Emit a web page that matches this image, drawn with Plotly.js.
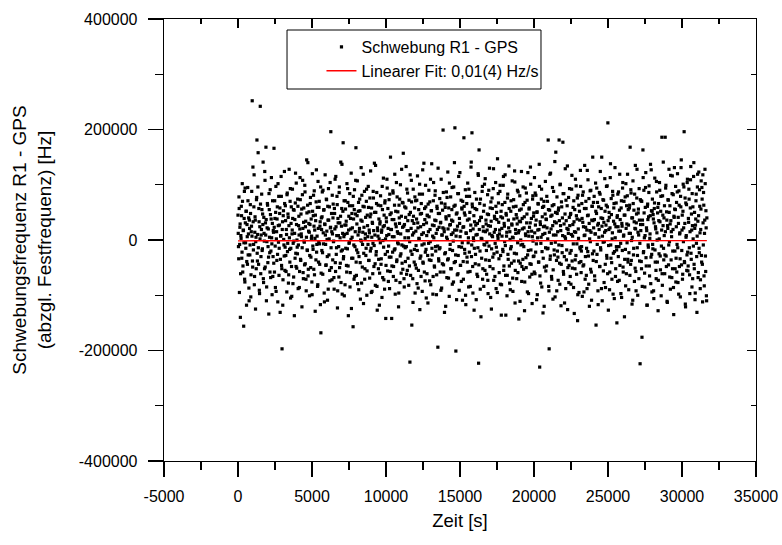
<!DOCTYPE html>
<html>
<head>
<meta charset="utf-8">
<script src="https://cdn.plot.ly/plotly-3.0.1.min.js"></script>
<style>html,body{margin:0;padding:0;background:#fff;}#chart{width:782px;height:545px;}</style>
</head>
<body>
<div id="chart"></div>
<script>
// Zeit [s] der Messpunkte (Teil 1)
const zeit_s = [
0,32,64,96,128,160,192,224,256,288,320,352,384,416,448,480,512,544,576,608,640,672,704,736,768,
800,832,864,896,928,960,992,1024,1056,1088,1120,1152,1184,1216,1248,1280,1312,1344,1376,1408,1440,1472,1504,1536,1568,
1600,1632,1664,1696,1728,1760,1792,1824,1856,1888,1920,1952,1984,2016,2048,2080,2112,2144,2176,2208,2240,2272,2304,2336,2368,
2400,2432,2464,2496,2528,2560,2592,2624,2656,2688,2720,2752,2784,2816,2848,2880,2912,2944,2976,3008,3040,3072,3104,3136,3168,
3200,3232,3264,3296,3328,3360,3392,3424,3456,3488,3520,3552,3584,3616,3648,3680,3712,3744,3776,3808,3840,3872,3904,3936,3968,
4000,4032,4064,4096,4128,4160,4192,4224,4256,4288,4320,4352,4384,4416,4448,4480,4512,4544,4576,4608,4640,4672,4704,4736,4768,
4800,4832,4864,4896,4928,4960,4992,5024,5056,5088,5120,5152,5184,5216,5248,5280,5312,5344,5376,5408,5440,5472,5504,5536,5568,
5600,5632,5664,5696,5728,5760,5792,5824,5856,5888,5920,5952,5984,6016,6048,6080,6112,6144,6176,6208,6240,6272,6304,6336,6368,
6400,6432,6464,6496,6528,6560,6592,6624,6656,6688,6720,6752,6784,6816,6848,6880,6912,6944,6976,7008,7040,7072,7104,7136,7168,
7200,7232,7264,7296,7328,7360,7392,7424,7456,7488,7520,7552,7584,7616,7648,7680,7712,7744,7776,7808,7840,7872,7904,7936,7968,
8000,8032,8064,8096,8128,8160,8192,8224,8256,8288,8320,8352,8384,8416,8448,8480,8512,8544,8576,8608,8640,8672,8704,8736,8768,
8800,8832,8864,8896,8928,8960,8992,9024,9056,9088,9120,9152,9184,9216,9248,9280,9312,9344,9376,9408,9440,9472,9504,9536,9568,
9600,9632,9664,9696,9728,9760,9792,9824,9856,9888,9920,9952,9984,10016,10048,10080,10112,10144,10176,10208,10240,10272,10304,10336,10368,
10400,10432,10464,10496,10528,10560,10592,10624,10656,10688,10720,10752,10784,10816,10848,10880,10912,10944,10976,11008,11040,11072,11104,11136,11168,
11200,11232,11264,11296,11328,11360,11392,11424,11456,11488,11520,11552,11584,11616,11648,11680,11712,11744,11776,11808,11840,11872,11904,11936,11968,
12000,12032,12064,12096,12128,12160,12192,12224,12256,12288,12320,12352,12384,12416,12448,12480,12512,12544,12576,12608,12640,12672,12704,12736,12768,
12800,12832,12864,12896,12928,12960,12992,13024,13056,13088,13120,13152,13184,13216,13248,13280,13312,13344,13376,13408,13440,13472,13504,13536,13568,
13600,13632,13664,13696,13728,13760,13792,13824,13856,13888,13920,13952,13984,14016,14048,14080,14112,14144,14176,14208,14240,14272,14304,14336,14368,
14400,14432,14464,14496,14528,14560,14592,14624,14656,14688,14720,14752,14784,14816,14848,14880,14912,14944,14976,15008,15040,15072,15104,15136,15168,
15200,15232,15264,15296,15328,15360,15392,15424,15456,15488,15520,15552,15584,15616,15648,15680,15712,15744,15776,15808,15840,15872,15904,15936,15968,
16000,16032,16064,16096,16128,16160,16192,16224,16256,16288,16320,16352,16384,16416,16448,16480,16512,16544,16576,16608,16640,16672,16704,16736,16768,
16800,16832,16864,16896,16928,16960,16992,17024,17056,17088,17120,17152,17184,17216,17248,17280,17312,17344,17376,17408,17440,17472,17504,17536,17568,
17600,17632,17664,17696,17728,17760,17792,17824,17856,17888,17920,17952,17984,18016,18048,18080,18112,18144,18176,18208,18240,18272,18304,18336,18368,
18400,18432,18464,18496,18528,18560,18592,18624,18656,18688,18720,18752,18784,18816,18848,18880,18912,18944,18976,19008,19040,19072,19104,19136,19168,
19200,19232,19264,19296,19328,19360,19392,19424,19456,19488,19520,19552,19584,19616,19648,19680,19712,19744,19776,19808,19840,19872,19904,19936,19968,
20000,20032,20064,20096,20128,20160,20192,20224,20256,20288,20320,20352,20384,20416,20448,20480,20512,20544,20576,20608,20640,20672,20704,20736,20768,
20800,20832,20864,20896,20928,20960,20992,21024,21056,21088,21120,21152,21184,21216,21248,21280,21312,21344,21376,21408,21440,21472,21504,21536,21568,
21600,21632,21664,21696,21728,21760,21792,21824,21856,21888,21920,21952,21984,22016,22048,22080,22112,22144,22176,22208,22240,22272,22304,22336,22368,
22400,22432,22464,22496,22528,22560,22592,22624,22656,22688,22720,22752,22784,22816,22848,22880,22912,22944,22976,23008,23040,23072,23104,23136,23168,
23200,23232,23264,23296,23328,23360,23392,23424,23456,23488,23520,23552,23584,23616,23648,23680,23712,23744,23776,23808,23840,23872,23904,23936,23968,
24000,24032,24064,24096,24128,24160,24192,24224,24256,24288,24320,24352,24384,24416,24448,24480,24512,24544,24576,24608,24640,24672,24704,24736,24768,
24800,24832,24864,24896,24928,24960,24992,25024,25056,25088,25120,25152,25184,25216,25248,25280,25312,25344,25376,25408,25440,25472,25504,25536,25568,
25600,25632,25664,25696,25728,25760,25792,25824,25856,25888,25920,25952,25984,26016,26048,26080,26112,26144,26176,26208,26240,26272,26304,26336,26368,
26400,26432,26464,26496,26528,26560,26592,26624,26656,26688,26720,26752,26784,26816,26848,26880,26912,26944,26976,27008,27040,27072,27104,27136,27168,
27200,27232,27264,27296,27328,27360,27392,27424,27456,27488,27520,27552,27584,27616,27648,27680,27712,27744,27776,27808,27840,27872,27904,27936,27968,
28000,28032,28064,28096,28128,28160,28192,28224,28256,28288,28320,28352,28384,28416,28448,28480,28512,28544,28576,28608,28640,28672,28704,28736,28768,
28800,28832,28864,28896,28928,28960,28992,29024,29056,29088,29120,29152,29184,29216,29248,29280,29312,29344,29376,29408,29440,29472,29504,29536,29568,
29600,29632,29664,29696,29728,29760,29792,29824,29856,29888,29920,29952,29984,30016,30048,30080,30112,30144,30176,30208,30240,30272,30304,30336,30368,
30400,30432,30464,30496,30528,30560,30592,30624,30656,30688,30720,30752,30784,30816,30848,30880,30912,30944,30976,31008,31040,31072,31104,31136,31168,
31200,31232,31264,31296,31328,31360,31392,31424,31456,31488,31520,31552,31584,31616,31648,31680
];
// Schwebungsfrequenz R1 - GPS (abzgl. Festfrequenz) in kHz (Teil 1)
const schwebung_kHz = [
45,-12,78,-95,23,-140,8,61,-33,102,-58,17,-156,39,-71,94,-5,52,-118,28,-44,71,11,-87,36,
-27,64,-103,15,88,252,-49,33,-8,118,-66,42,-125,5,73,181,-38,96,-14,57,-91,24,242,-61,9,
83,-19,47,141,-77,12,-52,108,31,168,-110,-3,66,-41,20,-134,55,-23,91,-68,38,4,-99,71,-30,
14,166,-58,39,-86,97,2,-37,60,-112,26,79,-15,48,-131,7,115,-46,-197,33,-72,53,-9,124,-55,
62,-28,19,-94,85,-6,41,-63,128,-17,70,-105,30,-48,11,92,-79,55,-2,-137,37,67,-24,103,-51,
-13,74,-88,26,9,-57,113,-35,47,6,-121,82,21,-70,58,-4,99,-43,34,-92,145,-18,63,-65,16,
51,-101,28,77,-31,3,-76,120,-11,44,-53,89,18,-129,35,69,-22,7,-84,106,-40,59,-7,25,-117,
-168,40,-19,87,-62,13,54,-96,29,118,-8,-45,73,1,-109,36,93,-27,60,-74,22,196,-50,15,81,
-36,65,-2,-89,48,110,-57,24,-14,79,-123,39,8,-67,96,31,-42,141,-20,57,-98,12,176,-30,71,
10,-81,56,27,-46,102,-16,68,-137,43,-4,84,-59,20,121,-33,5,62,-157,38,-71,91,-12,47,167,
-64,29,107,-23,52,-90,15,74,-41,0,131,-78,34,-8,61,-115,23,88,-52,11,-28,70,-100,45,6,
97,-37,18,-69,42,125,-15,58,-93,30,-6,76,-48,139,9,-82,50,-21,86,-127,17,63,-35,2,-60,
33,80,-44,14,-104,55,-1,112,-72,26,67,-26,-142,40,8,94,-56,21,-11,73,-88,46,150,-31,19,
-47,6,89,-66,37,-18,119,-98,52,24,-39,78,-5,12,-121,63,30,-77,100,-25,43,-9,68,-53,157,
25,-85,60,-14,41,133,-62,17,85,-33,4,72,-47,-221,50,-20,108,-154,35,-70,92,13,-40,58,-96,
71,-10,38,-79,116,22,-55,3,83,-126,47,-29,66,10,-93,127,-42,28,-7,57,-74,99,-17,31,-61,
44,-114,15,90,-36,69,-3,-81,53,138,-27,7,-66,104,26,-49,81,-12,35,-99,61,19,-194,48,-38,
-16,75,-58,32,110,-87,9,54,199,-45,20,-131,65,-23,42,87,-68,1,123,-34,58,-102,27,-8,78,
-52,36,95,-19,13,-76,61,140,203,-39,-201,47,18,-63,84,-28,115,-91,30,6,-46,72,-13,56,-109,
23,-71,185,49,-24,91,-117,12,66,-40,103,-5,-85,38,79,-57,17,132,-30,194,60,-96,4,44,-15,
86,-43,27,-108,55,10,-66,120,-223,163,35,-20,74,-139,41,2,97,-52,16,-84,63,-9,111,-36,29,
-62,18,82,-97,46,-11,130,-48,25,69,-125,8,57,-31,93,-73,14,39,-6,104,-88,50,-22,147,3,
67,-34,11,88,-80,42,-136,21,64,-17,99,-55,30,-3,118,-64,48,7,-101,76,-26,36,134,-47,15,
-90,52,-12,29,107,-69,4,73,-38,125,-114,19,61,-25,40,90,-59,13,-143,34,80,-42,0,56,-75,
39,-8,96,-53,22,-128,68,11,-32,85,47,-94,122,-19,7,58,-67,31,101,-44,16,-115,74,-2,43,
-29,113,-61,27,81,-7,50,-99,18,65,-40,137,-230,33,-78,5,92,-21,59,-132,24,70,-49,12,106,
-56,37,79,-16,2,181,-84,-197,54,-35,121,20,-66,45,95,-107,9,64,-27,142,-4,159,31,-92,48,
15,-73,58,181,-42,100,26,-119,69,-10,40,177,-57,84,-30,6,129,-88,35,-18,62,-126,19,77,-46,
93,-24,46,-80,10,117,-51,28,-7,71,-133,55,-36,14,98,-62,38,-146,81,3,-95,52,-13,126,-39,
-20,66,-102,32,87,-45,8,135,-71,23,57,-15,-88,44,109,-29,75,-120,17,-3,90,-58,36,61,150,
-37,22,79,-65,11,103,-154,48,-26,68,-92,30,5,86,-48,124,-18,57,150,-110,39,-4,72,-77,14,
52,-86,27,97,-33,60,212,-127,19,41,-58,113,-9,75,-41,2,88,-98,34,66,-21,131,-66,24,-12,
-150,44,83,-30,16,-73,119,37,-6,58,-104,25,94,-49,7,70,-139,45,-17,102,-61,29,80,-35,55,
-90,12,63,168,-44,85,-1,-116,40,107,-27,54,-75,21,135,-57,31,76,-14,-100,49,9,93,-38,-224,
28,71,-52,-176,36,163,-23,90,4,-85,59,122,-47,17,-118,65,-9,42,98,-65,11,137,-31,53,-94,
74,-16,38,-106,57,112,-40,20,-70,87,0,49,-128,66,-25,104,33,-54,79,-11,186,-82,45,141,-36,
8,-61,186,94,-29,51,-111,26,73,-45,128,-3,62,-89,35,15,-68,116,-20,82,-135,41,56,-52,97,
-33,68,-8,120,-77,30,89,-48,13,-103,60,145,-19,45,-62,101,22,196,-41,76,-121,5,64,-27,110,
-56,39,92,-14,-97,58,133,-35,18,84,-70,2,115,-44,50,-108,27,71,-6,-131,96,34,-59,123,-23,
61,-88,19,107,-40,74,-112,31,86,-65,12,128,-29,53,-101,40
];
// Zeit [s] der Messpunkte (Teil 2, zwischenliegende Messungen)
const zeit2_s = [
16,48,80,112,144,176,208,240,272,304,336,368,400,432,464,496,528,560,592,624,656,688,720,752,784,
816,848,880,912,944,976,1008,1040,1072,1104,1136,1168,1200,1232,1264,1296,1328,1360,1392,1424,1456,1488,1520,1552,1584,
1616,1648,1680,1712,1744,1776,1808,1840,1872,1904,1936,1968,2000,2032,2064,2096,2128,2160,2192,2224,2256,2288,2320,2352,2384,
2416,2448,2480,2512,2544,2576,2608,2640,2672,2704,2736,2768,2800,2832,2864,2896,2928,2960,2992,3024,3056,3088,3120,3152,3184,
3216,3248,3280,3312,3344,3376,3408,3440,3472,3504,3536,3568,3600,3632,3664,3696,3728,3760,3792,3824,3856,3888,3920,3952,3984,
4016,4048,4080,4112,4144,4176,4208,4240,4272,4304,4336,4368,4400,4432,4464,4496,4528,4560,4592,4624,4656,4688,4720,4752,4784,
4816,4848,4880,4912,4944,4976,5008,5040,5072,5104,5136,5168,5200,5232,5264,5296,5328,5360,5392,5424,5456,5488,5520,5552,5584,
5616,5648,5680,5712,5744,5776,5808,5840,5872,5904,5936,5968,6000,6032,6064,6096,6128,6160,6192,6224,6256,6288,6320,6352,6384,
6416,6448,6480,6512,6544,6576,6608,6640,6672,6704,6736,6768,6800,6832,6864,6896,6928,6960,6992,7024,7056,7088,7120,7152,7184,
7216,7248,7280,7312,7344,7376,7408,7440,7472,7504,7536,7568,7600,7632,7664,7696,7728,7760,7792,7824,7856,7888,7920,7952,7984,
8016,8048,8080,8112,8144,8176,8208,8240,8272,8304,8336,8368,8400,8432,8464,8496,8528,8560,8592,8624,8656,8688,8720,8752,8784,
8816,8848,8880,8912,8944,8976,9008,9040,9072,9104,9136,9168,9200,9232,9264,9296,9328,9360,9392,9424,9456,9488,9520,9552,9584,
9616,9648,9680,9712,9744,9776,9808,9840,9872,9904,9936,9968,10000,10032,10064,10096,10128,10160,10192,10224,10256,10288,10320,10352,10384,
10416,10448,10480,10512,10544,10576,10608,10640,10672,10704,10736,10768,10800,10832,10864,10896,10928,10960,10992,11024,11056,11088,11120,11152,11184,
11216,11248,11280,11312,11344,11376,11408,11440,11472,11504,11536,11568,11600,11632,11664,11696,11728,11760,11792,11824,11856,11888,11920,11952,11984,
12016,12048,12080,12112,12144,12176,12208,12240,12272,12304,12336,12368,12400,12432,12464,12496,12528,12560,12592,12624,12656,12688,12720,12752,12784,
12816,12848,12880,12912,12944,12976,13008,13040,13072,13104,13136,13168,13200,13232,13264,13296,13328,13360,13392,13424,13456,13488,13520,13552,13584,
13616,13648,13680,13712,13744,13776,13808,13840,13872,13904,13936,13968,14000,14032,14064,14096,14128,14160,14192,14224,14256,14288,14320,14352,14384,
14416,14448,14480,14512,14544,14576,14608,14640,14672,14704,14736,14768,14800,14832,14864,14896,14928,14960,14992,15024,15056,15088,15120,15152,15184,
15216,15248,15280,15312,15344,15376,15408,15440,15472,15504,15536,15568,15600,15632,15664,15696,15728,15760,15792,15824,15856,15888,15920,15952,15984,
16016,16048,16080,16112,16144,16176,16208,16240,16272,16304,16336,16368,16400,16432,16464,16496,16528,16560,16592,16624,16656,16688,16720,16752,16784,
16816,16848,16880,16912,16944,16976,17008,17040,17072,17104,17136,17168,17200,17232,17264,17296,17328,17360,17392,17424,17456,17488,17520,17552,17584,
17616,17648,17680,17712,17744,17776,17808,17840,17872,17904,17936,17968,18000,18032,18064,18096,18128,18160,18192,18224,18256,18288,18320,18352,18384,
18416,18448,18480,18512,18544,18576,18608,18640,18672,18704,18736,18768,18800,18832,18864,18896,18928,18960,18992,19024,19056,19088,19120,19152,19184,
19216,19248,19280,19312,19344,19376,19408,19440,19472,19504,19536,19568,19600,19632,19664,19696,19728,19760,19792,19824,19856,19888,19920,19952,19984,
20016,20048,20080,20112,20144,20176,20208,20240,20272,20304,20336,20368,20400,20432,20464,20496,20528,20560,20592,20624,20656,20688,20720,20752,20784,
20816,20848,20880,20912,20944,20976,21008,21040,21072,21104,21136,21168,21200,21232,21264,21296,21328,21360,21392,21424,21456,21488,21520,21552,21584,
21616,21648,21680,21712,21744,21776,21808,21840,21872,21904,21936,21968,22000,22032,22064,22096,22128,22160,22192,22224,22256,22288,22320,22352,22384,
22416,22448,22480,22512,22544,22576,22608,22640,22672,22704,22736,22768,22800,22832,22864,22896,22928,22960,22992,23024,23056,23088,23120,23152,23184,
23216,23248,23280,23312,23344,23376,23408,23440,23472,23504,23536,23568,23600,23632,23664,23696,23728,23760,23792,23824,23856,23888,23920,23952,23984,
24016,24048,24080,24112,24144,24176,24208,24240,24272,24304,24336,24368,24400,24432,24464,24496,24528,24560,24592,24624,24656,24688,24720,24752,24784,
24816,24848,24880,24912,24944,24976,25008,25040,25072,25104,25136,25168,25200,25232,25264,25296,25328,25360,25392,25424,25456,25488,25520,25552,25584,
25616,25648,25680,25712,25744,25776,25808,25840,25872,25904,25936,25968,26000,26032,26064,26096,26128,26160,26192,26224,26256,26288,26320,26352,26384,
26416,26448,26480,26512,26544,26576,26608,26640,26672,26704,26736,26768,26800,26832,26864,26896,26928,26960,26992,27024,27056,27088,27120,27152,27184,
27216,27248,27280,27312,27344,27376,27408,27440,27472,27504,27536,27568,27600,27632,27664,27696,27728,27760,27792,27824,27856,27888,27920,27952,27984,
28016,28048,28080,28112,28144,28176,28208,28240,28272,28304,28336,28368,28400,28432,28464,28496,28528,28560,28592,28624,28656,28688,28720,28752,28784,
28816,28848,28880,28912,28944,28976,29008,29040,29072,29104,29136,29168,29200,29232,29264,29296,29328,29360,29392,29424,29456,29488,29520,29552,29584,
29616,29648,29680,29712,29744,29776,29808,29840,29872,29904,29936,29968,30000,30032,30064,30096,30128,30160,30192,30224,30256,30288,30320,30352,30384,
30416,30448,30480,30512,30544,30576,30608,30640,30672,30704,30736,30768,30800,30832,30864,30896,30928,30960,30992,31024,31056,31088,31120,31152,31184,
31216,31248,31280,31312,31344,31376,31408,31440,31472,31504,31536,31568,31600,31632,31664
];
// Schwebungsfrequenz in kHz (Teil 2)
const schwebung2_kHz = [
12,-34,57,-8,29,-61,3,44,-22,70,-47,18,-5,88,-76,31,-15,52,-39,6,95,-27,40,-110,21,
-9,48,-63,25,7,-38,132,-18,60,-81,14,36,-3,-52,77,-24,10,158,-44,33,-97,2,65,-30,19,
55,-16,28,-70,41,-2,124,-49,9,37,-85,22,63,-12,-31,84,5,-58,46,-20,113,-7,30,-66,17,
-42,23,71,-11,50,-93,15,38,-26,102,-4,-64,27,58,-35,8,79,-52,19,-118,44,1,-29,66,-13,
35,-57,10,82,-21,47,-78,26,4,-40,93,-15,60,-102,18,39,-6,-67,54,12,-33,121,-48,28,0,
-25,61,-9,43,-86,20,73,-37,11,56,-14,108,-59,32,-2,-45,87,24,-71,5,49,-19,140,-53,30,
14,-28,66,-50,38,7,-99,52,-17,81,25,-63,3,45,-36,127,-8,59,-81,21,-4,70,-44,33,96,
-60,19,42,-23,90,-7,55,-112,28,9,-46,74,16,-30,61,-89,36,2,-55,104,23,-14,48,-72,11,
40,-3,-68,57,20,-41,115,-26,8,64,-92,31,-12,86,-50,4,43,-77,25,137,-18,52,-34,6,-101,
27,71,-15,34,-58,12,93,-47,18,-6,62,-85,39,1,-124,48,22,-33,79,-9,55,-66,15,108,-40,
-18,44,-79,9,68,-30,21,53,-107,36,-2,81,-49,14,119,-24,60,-71,3,41,-15,92,-56,26,-8,
59,-37,13,76,-20,47,-95,5,32,-61,88,17,-10,50,-43,135,-27,66,-84,22,7,-52,38,-118,29,
-5,62,-34,18,97,-68,24,-13,45,-89,71,2,-46,33,110,-21,57,-75,10,-31,83,-57,19,49,-142,
37,-22,85,-48,6,63,-16,29,-73,104,-36,15,51,-7,-96,40,74,-29,11,-60,128,-42,23,67,-11,
-70,28,4,-39,58,-12,92,-55,35,17,-82,46,-3,118,-64,21,69,-26,9,-113,43,30,-17,78,-45,
16,-51,72,-19,31,-87,55,2,101,-33,24,-66,48,-9,83,-40,13,139,-58,37,-22,60,-105,8,45,
-28,65,-6,42,-74,19,110,-37,53,-15,27,-98,71,4,-47,36,89,-20,12,-63,57,-11,130,-34,23,
48,-14,31,-91,67,9,-43,22,86,-58,15,-25,59,-120,38,5,77,-36,20,-69,44,103,-17,28,-52,
10,55,-80,34,-2,96,-41,18,63,-27,7,-108,49,25,-61,84,-12,39,122,-46,16,-75,58,-5,70,
-39,24,61,-17,45,-100,13,79,-31,36,-58,4,92,-22,50,-84,27,141,-9,65,-48,20,-1,-127,33,
57,-26,9,74,-62,30,-14,117,-45,19,66,-89,41,3,-33,88,-71,24,52,-8,101,-55,15,36,-19,
-4,47,-73,26,90,-37,11,58,-104,34,-16,76,6,-52,129,-25,43,-66,19,61,-13,37,-95,8,84,
32,-59,18,99,-28,52,-81,7,40,-21,115,-47,25,68,-10,-136,45,14,-64,83,-35,22,57,-78,1,
-16,71,-42,27,5,-93,60,38,-24,105,-55,12,46,-70,29,-5,87,-38,17,54,-111,33,-9,124,-48,
20,-35,64,-12,42,-76,94,8,-50,31,72,-27,15,-97,56,23,-43,132,-18,39,-62,6,80,-30,49,
-58,13,85,-22,36,-108,51,4,66,-40,19,97,-65,28,-6,74,-85,42,10,-33,61,-120,25,47,-14,
38,-47,22,70,-15,55,-92,14,119,-29,43,-6,-71,62,26,-54,88,-18,33,-103,50,9,-37,78,-20,
-31,54,-9,35,-80,101,17,-44,60,-23,8,84,-62,29,-114,47,3,72,-36,21,134,-50,12,-77,41,
26,-66,48,-19,92,-38,7,59,-86,33,15,-52,110,-28,44,-7,76,-99,20,63,-41,36,-16,97,-59,
-12,39,81,-47,24,-94,57,9,-30,70,-64,18,126,-21,45,-80,30,2,89,-53,14,-109,61,-25,35,
68,-20,37,-73,11,52,-39,94,-8,27,-117,60,19,-48,83,-14,40,-88,25,7,73,-56,32,-3,111,
-44,17,63,-28,98,-61,35,-10,50,-90,22,138,-33,46,-71,13,81,-24,58,-106,29,4,-52,67,-18,
41,-75,24,87,-12,54,-46,16,-97,71,30,-19,104,-58,9,45,-35,78,-83,21,62,-5,119,-40,27,
-23,58,-64,12,91,-37,40,5,-109,66,-15,33,83,-51,20,-92,47,128,-28,14,56,-70,36,-6,73,
17,-39,70,-84,28,113,-21,49,-60,8,95,-32,22,-118,61,37,-13,86,-47,3,44,-79,127,-26,52,
-8,46,-92,31,67,-18,24,-55,106,13,-40,59,-73,35,2,90,-29,52,-101,18,-61,80,26,-15,40,
62,-27,15,99,-48,36,-113,21,72,-9,50,-67,29,117,-36,6,84,-52,19,-86,43,131,-20,55,-76,
24,-58,87,-14,41,-98,63,11,-34,79,131,-45,18,-71,52,-3,96,-39,30,-116,67,8,-55,104,-22,
-47,32,74,-63,15,109,-24,47,-85,26,60,-11,140,-52,21,-96,38,83,-30,7,119,-68,44,-15,91,
13,-72,56,-28,95,-44,118,-9,63,-83,36,102,-57,22,-110
];
// Linearer Fit (Endpunkte)
const fitZeit_s = [0, 31680];
const fitWert_Hz = [-1500, -1200];

const xTicks = [-5000, 0, 5000, 10000, 15000, 20000, 25000, 30000, 35000];
const yTicks = [-400000, -200000, 0, 200000, 400000];

const alleZeit_s = zeit_s.concat(zeit2_s);
const alleSchwebung_Hz = schwebung_kHz.concat(schwebung2_kHz).map(v => v * 1000);

const FONT = '"Liberation Sans", Arial, sans-serif';
const xRange = [-5000, 35000];
const yRange = [-400000, 400000];

const traces = [
  {
    type: 'scatter', mode: 'markers',
    x: alleZeit_s, y: alleSchwebung_Hz,
    name: 'Schwebung R1 - GPS',
    marker: {symbol: 'square', size: 3.2, color: '#000000', line: {width: 0}}
  },
  {
    type: 'scatter', mode: 'lines',
    x: fitZeit_s, y: fitWert_Hz,
    name: 'Linearer Fit: 0,01(4) Hz/s',
    line: {color: '#ff0000', width: 1.4}
  },
  {
    type: 'scatter', mode: 'markers', x: [], y: [],
    xaxis: 'x2', yaxis: 'y2', showlegend: false, hoverinfo: 'skip'
  }
];

const axisCommon = {
  showgrid: false, zeroline: false, showline: true,
  linecolor: '#000', linewidth: 1.3, tickcolor: '#000', tickwidth: 1.3,
  tickfont: {family: FONT, size: 16, color: '#000'}
};

const layout = {
  width: 782, height: 545,
  margin: {l: 164, r: 26, t: 19, b: 84, pad: 0},
  paper_bgcolor: '#fff', plot_bgcolor: '#fff',
  font: {family: FONT, color: '#000'},
  showlegend: true,
  legend: {
    x: 0.266, y: 0.975, xanchor: 'left', yanchor: 'top',
    bgcolor: 'rgba(0,0,0,0)', borderwidth: 0,
    font: {family: FONT, size: 16, color: '#000'},
    tracegroupgap: 0
  },
  xaxis: Object.assign({}, axisCommon, {
    range: xRange, tickmode: 'array', tickvals: xTicks, ticktext: xTicks.map(String),
    ticks: 'outside', ticklen: 15, ticklabelstandoff: 5,
    minor: {ticks: 'outside', ticklen: 8, dtick: 2500, tick0: 0, tickcolor: '#000', tickwidth: 1.3, showgrid: false},
    title: {text: 'Zeit [s]', font: {family: FONT, size: 18.5, color: '#000'}, standoff: 10}
  }),
  yaxis: Object.assign({}, axisCommon, {
    range: yRange, tickmode: 'array', tickvals: yTicks, ticktext: yTicks.map(String),
    ticks: 'outside', ticklen: 15, ticklabelstandoff: 7,
    minor: {ticks: 'outside', ticklen: 8, dtick: 100000, tick0: 0, tickcolor: '#000', tickwidth: 1.3, showgrid: false},
    title: {text: 'Schwebungsfrequenz R1 - GPS<br>(abzgl. Festfrequenz) [Hz]', font: {family: FONT, size: 19, color: '#000'}, standoff: 22}
  }),
  xaxis2: Object.assign({}, axisCommon, {
    overlaying: 'x', side: 'top', anchor: 'y2', range: xRange,
    tickmode: 'array', tickvals: xTicks, showticklabels: false,
    ticks: 'inside', ticklen: 9,
    minor: {ticks: 'inside', ticklen: 5, dtick: 2500, tick0: 0, tickcolor: '#000', tickwidth: 1.3, showgrid: false}
  }),
  yaxis2: Object.assign({}, axisCommon, {
    overlaying: 'y', side: 'right', anchor: 'x2', range: yRange,
    tickmode: 'array', tickvals: yTicks, showticklabels: false,
    ticks: 'inside', ticklen: 9,
    minor: {ticks: 'inside', ticklen: 5, dtick: 100000, tick0: 0, tickcolor: '#000', tickwidth: 1.3, showgrid: false}
  }),
  shapes: [{
    type: 'rect', xref: 'paper', yref: 'paper',
    x0: 0.2078, x1: 0.6368, y0: 0.8416, y1: 0.9751,
    line: {color: '#000', width: 1}, fillcolor: 'rgba(255,255,255,0)', layer: 'above'
  }]
};

Plotly.newPlot('chart', traces, layout, {displayModeBar: false, staticPlot: true});
</script>
</body>
</html>
